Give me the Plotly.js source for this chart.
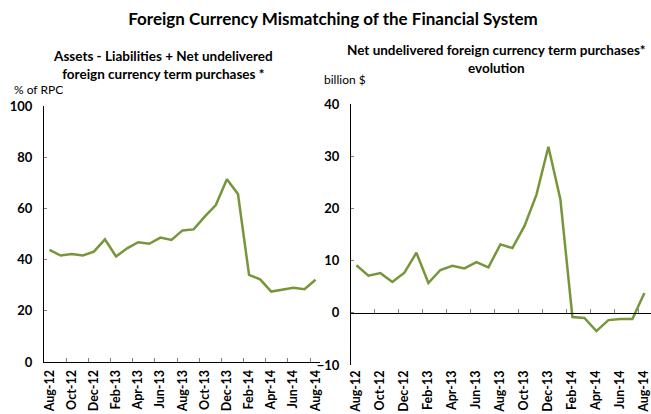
<!DOCTYPE html>
<html><head><meta charset="utf-8">
<script src="https://cdn.plot.ly/plotly-3.0.1.min.js"></script>
<style>html,body{margin:0;padding:0;background:#fff}#c{width:651px;height:414px}</style>
</head><body><div id="c"></div>
<script>
const months = ["Aug-12","Sep-12","Oct-12","Nov-12","Dec-12","Jan-13","Feb-13","Mar-13","Apr-13","May-13","Jun-13","Jul-13","Aug-13","Sep-13","Oct-13","Nov-13","Dec-13","Jan-14","Feb-14","Mar-14","Apr-14","May-14","Jun-14","Jul-14","Aug-14"];
const mismatchPct = [43.8,41.6,42.2,41.6,43.1,47.9,41.2,44.4,46.8,46.2,48.6,47.7,51.4,51.8,56.8,61.3,71.4,65.6,34.0,32.3,27.5,28.4,29.0,28.4,32.1];
const netPurchases = [9.1,7.1,7.6,5.9,7.7,11.5,5.7,8.2,9.0,8.5,9.7,8.7,13.1,12.4,16.6,22.6,31.8,21.7,-0.8,-1.0,-3.5,-1.4,-1.2,-1.2,3.8];
const tickLabels = months.filter((m,i)=>i%2===0);

const green = "#77963A";
const F = "Lato, 'Gill Sans', 'DejaVu Sans', sans-serif";
const tickFont = {family: F, size: 13, color: "#000", weight: 700};
const xTickFont = {family: F, size: 12.5, color: "#000", weight: 700};

const traces = [
  {x: months, y: mismatchPct, xaxis: "x", yaxis: "y", type: "scatter", mode: "lines",
   line: {color: green, width: 2.5}, hoverinfo: "skip"},
  {x: months, y: netPurchases, xaxis: "x2", yaxis: "y2", type: "scatter", mode: "lines",
   line: {color: green, width: 2.5}, hoverinfo: "skip"},
  // empty helper trace so the zero-crossing axis (ticks only) is drawn
  {x: [], y: [], xaxis: "x3", yaxis: "y2", type: "scatter", mode: "lines", hoverinfo: "skip"}
];

const H = 414, W = 651;
const xBase = {type: "category", categoryorder: "array", categoryarray: months,
  tickmode: "array", tickvals: tickLabels, ticktext: tickLabels, tickangle: -90,
  tickfont: xTickFont, ticks: "inside", ticklen: 4, tickcolor: "#808080", tickson: "boundaries",
  ticklabelstandoff: 2, showgrid: false, zeroline: false, fixedrange: true};
const xRange2 = [-0.45, 24.55];

const layout = {
  width: W, height: H, margin: {l: 0, r: 0, t: 0, b: 0},
  paper_bgcolor: "#fff", plot_bgcolor: "rgba(0,0,0,0)", showlegend: false,
  font: {family: F, color: "#000"},
  title: {text: "<b>Foreign Currency Mismatching of the Financial System</b>",
    font: {family: F, size: 17, color: "#000"}, x: 333/W, xanchor: "center", y: 1 - 19/H, yanchor: "middle"},
  xaxis: Object.assign({}, xBase, {domain: [44/W, 320/W], anchor: "y", range: [-0.5, 24.4],
    showline: true, linecolor: "#000", linewidth: 1}),
  yaxis: {domain: [(H-362)/H, (H-106)/H], anchor: "x", range: [0, 100], dtick: 20,
    showgrid: false, zeroline: false, showline: true, linecolor: "#000", linewidth: 1,
    ticks: "inside", ticklen: 3, tickcolor: "#808080", tickfont: tickFont, ticklabelstandoff: 8, fixedrange: true},
  xaxis2: Object.assign({}, xBase, {domain: [351/W, 1], anchor: "y2", range: xRange2,
    showline: false, ticks: ""}),
  xaxis3: {type: "linear", domain: [351/W, 1], anchor: "free", overlaying: "x2",
    position: (H-313)/H, range: xRange2, tickmode: "linear", tick0: 1.5, dtick: 2,
    showticklabels: false, ticks: "inside", ticklen: 4, tickcolor: "#808080",
    showline: true, linecolor: "#000", linewidth: 1, showgrid: false, zeroline: false, fixedrange: true},
  yaxis2: {domain: [(H-365)/H, (H-104)/H], anchor: "x2", range: [-10, 40], dtick: 10,
    showgrid: false, zeroline: false, showline: true, linecolor: "#000", linewidth: 1,
    ticks: "inside", ticklen: 3, tickcolor: "#808080", tickfont: tickFont, ticklabelstandoff: 8, fixedrange: true},
  annotations: [
    {text: "<b>Assets - Liabilities + Net undelivered<br>foreign currency term purchases *</b>",
     xref: "paper", yref: "paper", x: 163/W, y: 1 - 65/H, xanchor: "center", yanchor: "middle",
     showarrow: false, font: {family: F, size: 13.5, color: "#000"}, align: "center"},
    {text: "<b>Net undelivered foreign currency term purchases*<br>evolution</b>",
     xref: "paper", yref: "paper", x: 496/W, y: 1 - 59/H, xanchor: "center", yanchor: "middle",
     showarrow: false, font: {family: F, size: 13.5, color: "#000"}, align: "center"},
    {text: "% of RPC", xref: "paper", yref: "paper", x: 12/W, y: 1 - 89/H, xanchor: "left", yanchor: "middle",
     showarrow: false, font: {family: F, size: 12, color: "#000"}},
    {text: "billion $", xref: "paper", yref: "paper", x: 322/W, y: 1 - 80/H, xanchor: "left", yanchor: "middle",
     showarrow: false, font: {family: F, size: 12, color: "#000"}}
  ]
};

Plotly.newPlot("c", traces, layout, {staticPlot: true, displayModeBar: false});
</script>
</body></html>
